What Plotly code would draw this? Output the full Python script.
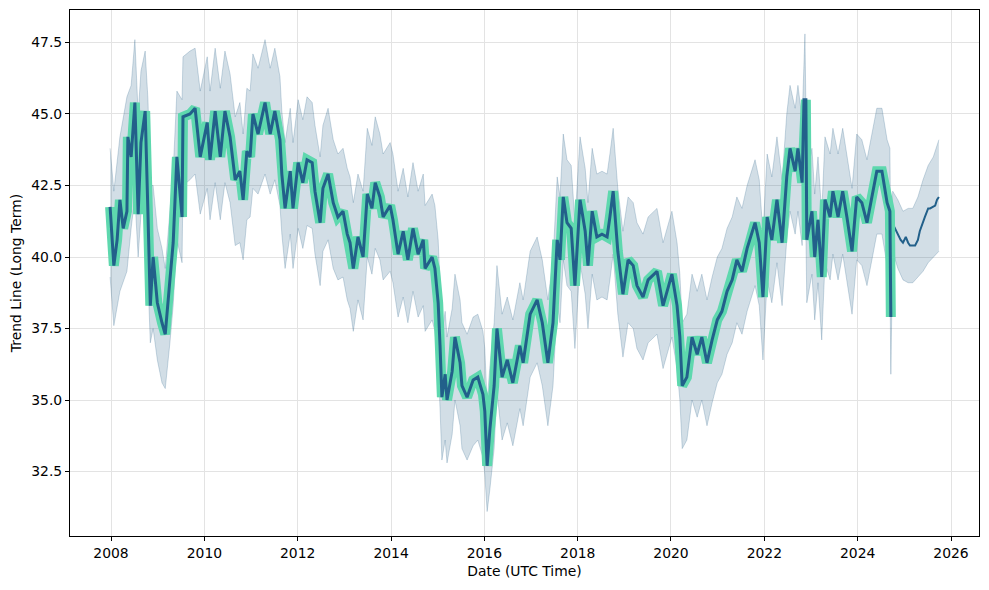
import pandas as pd
import plotly.graph_objects as go

# ---- data (decimal years) ----
trend_years = [
    2007.98, 2008.02, 2008.06, 2008.13, 2008.19, 2008.26, 2008.34, 2008.36, 2008.43, 2008.51,
    2008.58, 2008.64, 2008.73, 2008.79, 2008.84, 2008.90, 2008.99, 2009.09, 2009.16, 2009.26,
    2009.33, 2009.41, 2009.52, 2009.54, 2009.69, 2009.80, 2009.91, 2010.06, 2010.12, 2010.23,
    2010.34, 2010.44, 2010.55, 2010.66, 2010.76, 2010.83, 2010.91, 2010.98, 2011.04, 2011.15,
    2011.30, 2011.41, 2011.51, 2011.62, 2011.66, 2011.73, 2011.84, 2011.90, 2012.01, 2012.11,
    2012.20, 2012.31, 2012.37, 2012.48, 2012.54, 2012.65, 2012.76, 2012.86, 2012.97, 2013.06,
    2013.12, 2013.19, 2013.29, 2013.40, 2013.49, 2013.59, 2013.66, 2013.76, 2013.83, 2013.98,
    2014.04, 2014.15, 2014.26, 2014.36, 2014.47, 2014.58, 2014.69, 2014.73, 2014.88, 2014.94,
    2015.01, 2015.05, 2015.09, 2015.16, 2015.20, 2015.31, 2015.37, 2015.48, 2015.52, 2015.63,
    2015.76, 2015.86, 2015.97, 2016.01, 2016.06, 2016.12, 2016.21, 2016.27, 2016.38, 2016.49,
    2016.61, 2016.76, 2016.83, 2016.98, 2017.13, 2017.24, 2017.36, 2017.47, 2017.56, 2017.62,
    2017.69, 2017.77, 2017.86, 2017.94, 2018.05, 2018.16, 2018.22, 2018.31, 2018.41, 2018.52,
    2018.63, 2018.69, 2018.76, 2018.86, 2018.97, 2019.08, 2019.19, 2019.27, 2019.40, 2019.51,
    2019.70, 2019.83, 2020.02, 2020.13, 2020.19, 2020.24, 2020.34, 2020.45, 2020.56, 2020.66,
    2020.77, 2020.88, 2020.99, 2021.09, 2021.20, 2021.31, 2021.41, 2021.52, 2021.63, 2021.80,
    2021.89, 2021.97, 2022.06, 2022.16, 2022.27, 2022.38, 2022.48, 2022.55, 2022.66, 2022.72,
    2022.81, 2022.85, 2022.89, 2022.91, 2023.02, 2023.08, 2023.15, 2023.23, 2023.30, 2023.41,
    2023.47, 2023.58, 2023.68, 2023.77, 2023.88, 2023.98, 2024.09, 2024.20, 2024.31, 2024.41,
    2024.52, 2024.63, 2024.69, 2024.71,
]
trend_values = [
    41.75, 40.5, 39.7, 40.6, 42.0, 41.0, 41.6, 44.2, 43.5, 45.4,
    41.5, 44.0, 45.1, 41.5, 38.3, 40.0, 38.4, 37.7, 37.3, 39.2,
    40.5, 43.5, 41.4, 44.9, 45.0, 45.2, 43.5, 44.7, 43.4, 45.1,
    43.5, 45.1, 44.2, 42.7, 43.0, 42.0, 43.7, 43.5, 45.0, 44.3,
    45.4, 44.3, 45.1, 44.1, 42.9, 41.7, 43.0, 41.7, 43.3, 42.6,
    43.4, 43.3, 42.3, 41.2, 42.4, 42.9, 41.9, 41.4, 41.6, 40.8,
    40.5, 39.6, 40.7, 40.0, 42.2, 41.7, 42.6, 42.1, 41.4, 41.8,
    41.3, 40.1, 40.9, 39.9, 41.0, 40.1, 40.6, 39.6, 40.0, 39.6,
    38.4, 36.9, 35.1, 35.9, 35.0, 36.0, 37.2, 36.3, 35.5, 35.1,
    35.7, 35.8, 35.2, 34.6, 32.7, 34.0, 35.5, 37.5, 35.8, 36.4,
    35.6, 36.9, 36.3, 38.0, 38.5, 37.7, 36.3, 37.7, 40.6, 39.9,
    42.1, 41.2, 41.0, 39.0, 42.0, 40.9, 39.7, 41.6, 40.7, 40.8,
    40.7, 41.4, 42.3, 40.2, 38.7, 39.9, 39.7, 39.0, 38.6, 39.2,
    39.5, 38.3, 39.4, 38.3, 37.2, 35.5, 35.8, 37.2, 36.6, 37.2,
    36.3, 37.1, 37.8, 38.1, 38.8, 39.2, 39.9, 39.5, 40.3, 41.2,
    40.5, 38.6, 41.4, 40.6, 42.0, 40.5, 42.8, 43.8, 43.0, 43.8,
    42.6, 45.5, 45.5, 40.6, 41.6, 40.0, 41.3, 39.3, 42.0, 41.4,
    42.3, 41.4, 42.3, 41.4, 40.2, 42.1, 41.9, 41.2, 42.1, 43.0,
    43.0, 41.9, 41.6, 37.9,
]

forecast_years = [
    2024.71, 2024.80, 2024.86, 2024.92, 2024.97, 2025.03, 2025.08, 2025.12, 2025.18,
    2025.23, 2025.29, 2025.33, 2025.44, 2025.51, 2025.55, 2025.66, 2025.70, 2025.74,
]
forecast_values = [
    41.3, 41.0, 40.8, 40.6, 40.5, 40.7, 40.5, 40.4, 40.4,
    40.4, 40.6, 40.9, 41.4, 41.7, 41.7, 41.8, 42.0, 42.1,
]

band_years = [
    2007.98, 2008.06, 2008.19, 2008.34, 2008.43, 2008.51, 2008.58, 2008.64, 2008.73, 2008.79,
    2008.84, 2008.90, 2008.99, 2009.09, 2009.16, 2009.26, 2009.33, 2009.41, 2009.52, 2009.54,
    2009.69, 2009.80, 2009.91, 2010.06, 2010.12, 2010.23, 2010.34, 2010.44, 2010.55, 2010.66,
    2010.76, 2010.83, 2010.91, 2010.98, 2011.04, 2011.15, 2011.30, 2011.41, 2011.51, 2011.62,
    2011.66, 2011.73, 2011.84, 2011.90, 2012.01, 2012.11, 2012.20, 2012.31, 2012.37, 2012.48,
    2012.54, 2012.65, 2012.76, 2012.86, 2012.97, 2013.06, 2013.12, 2013.19, 2013.29, 2013.40,
    2013.49, 2013.59, 2013.66, 2013.76, 2013.83, 2013.98, 2014.04, 2014.15, 2014.26, 2014.36,
    2014.47, 2014.58, 2014.69, 2014.73, 2014.88, 2014.94, 2015.01, 2015.05, 2015.09, 2015.16,
    2015.20, 2015.31, 2015.37, 2015.48, 2015.52, 2015.63, 2015.76, 2015.86, 2015.97, 2016.01,
    2016.06, 2016.12, 2016.21, 2016.27, 2016.38, 2016.49, 2016.61, 2016.76, 2016.83, 2016.98,
    2017.13, 2017.24, 2017.36, 2017.47, 2017.56, 2017.62, 2017.69, 2017.77, 2017.86, 2017.94,
    2018.05, 2018.16, 2018.22, 2018.31, 2018.41, 2018.52, 2018.63, 2018.69, 2018.76, 2018.86,
    2018.97, 2019.08, 2019.19, 2019.27, 2019.40, 2019.51, 2019.70, 2019.83, 2020.02, 2020.13,
    2020.19, 2020.24, 2020.34, 2020.45, 2020.56, 2020.66, 2020.77, 2020.88, 2020.99, 2021.09,
    2021.20, 2021.31, 2021.41, 2021.52, 2021.63, 2021.80, 2021.89, 2021.97, 2022.06, 2022.16,
    2022.27, 2022.38, 2022.48, 2022.55, 2022.66, 2022.72, 2022.81, 2022.87, 2022.91, 2023.02,
    2023.08, 2023.15, 2023.23, 2023.30, 2023.41, 2023.47, 2023.58, 2023.68, 2023.77, 2023.88,
    2023.98, 2024.09, 2024.20, 2024.31, 2024.41, 2024.52, 2024.63, 2024.69, 2024.71, 2024.75,
    2024.86, 2024.97, 2025.08, 2025.18, 2025.29, 2025.40, 2025.51, 2025.62, 2025.68, 2025.74,
]
band_upper = [
    43.8, 42.3, 44.2, 45.6, 46.0, 47.6, 45.0, 46.5, 47.2, 45.5,
    42.5, 42.5, 41.0, 40.3, 39.6, 41.5, 43.0, 45.8, 45.5, 47.0,
    47.2, 47.3, 45.8, 47.0, 45.8, 47.3, 45.9, 47.2, 46.4, 44.9,
    45.4, 44.3, 45.9, 45.8, 47.1, 46.6, 47.6, 46.6, 47.3, 46.3,
    45.1, 44.0, 45.2, 44.0, 45.5, 44.8, 45.6, 45.4, 44.6, 43.5,
    44.6, 45.2, 44.1, 43.6, 43.8, 43.1, 42.8, 41.9, 42.9, 42.3,
    44.5, 43.9, 44.9, 44.3, 43.6, 44.0, 43.6, 42.3, 43.1, 42.1,
    43.3, 42.3, 42.9, 41.8, 42.2, 41.8, 40.6, 39.1, 37.3, 38.1,
    37.2, 38.2, 39.4, 38.5, 37.7, 37.3, 37.9, 38.0, 37.4, 36.8,
    34.9, 36.2, 37.7, 39.7, 38.0, 38.6, 37.8, 39.1, 38.5, 40.2,
    40.7, 39.9, 38.5, 39.9, 42.8, 42.1, 44.3, 43.4, 43.2, 41.2,
    44.2, 43.1, 41.9, 43.8, 42.9, 43.0, 42.9, 43.6, 44.5, 42.4,
    40.9, 42.1, 41.9, 41.2, 40.8, 41.4, 41.7, 40.5, 41.6, 40.5,
    39.4, 37.7, 38.0, 39.4, 38.8, 39.4, 38.5, 39.3, 40.0, 40.3,
    41.0, 41.4, 42.1, 41.7, 42.5, 43.4, 42.7, 40.8, 43.6, 42.8,
    44.2, 42.7, 45.0, 46.0, 45.2, 46.0, 44.8, 47.8, 42.8, 43.8,
    42.2, 43.5, 41.5, 44.2, 43.6, 44.5, 43.6, 44.5, 43.6, 42.4,
    44.3, 44.1, 43.4, 44.3, 45.2, 45.2, 44.1, 43.8, 40.1, 42.3,
    42.0, 41.6, 41.7, 41.7, 42.1, 42.7, 43.2, 43.5, 43.8, 44.1,
]
band_lower = [
    39.3, 37.6, 38.8, 39.5, 41.0, 42.1, 40.0, 41.5, 42.0, 39.5,
    37.0, 37.5, 36.4, 35.6, 35.4, 37.0, 38.3, 40.6, 39.8, 42.5,
    42.7, 42.9, 41.5, 42.4, 41.3, 42.6, 41.3, 42.6, 41.9, 40.4,
    40.5, 39.9, 41.3, 41.4, 42.4, 42.2, 42.9, 42.2, 42.7, 41.8,
    40.8, 39.6, 40.8, 39.6, 41.0, 40.3, 41.1, 41.0, 40.1, 39.0,
    40.2, 40.6, 39.6, 39.2, 39.3, 38.5, 38.2, 37.4, 38.5, 37.8,
    40.0, 39.4, 40.3, 39.9, 39.2, 39.5, 39.1, 37.9, 38.6, 37.7,
    38.8, 37.9, 38.3, 37.4, 37.8, 37.4, 36.2, 34.7, 32.9, 33.6,
    32.8, 33.8, 35.0, 34.1, 33.3, 32.9, 33.4, 33.6, 33.0, 32.4,
    31.1, 31.9, 33.3, 35.3, 33.6, 34.2, 33.4, 34.7, 34.1, 35.8,
    36.3, 35.5, 34.1, 35.5, 38.4, 37.7, 39.9, 39.0, 38.8, 36.8,
    39.8, 38.7, 37.5, 39.4, 38.5, 38.6, 38.5, 39.2, 40.1, 38.0,
    36.5, 37.7, 37.5, 36.8, 36.4, 37.0, 37.3, 36.1, 37.2, 36.1,
    35.0, 33.3, 33.6, 35.0, 34.4, 35.0, 34.1, 34.9, 35.6, 35.9,
    36.6, 37.0, 37.7, 37.3, 38.1, 39.0, 38.3, 36.4, 39.2, 38.4,
    39.8, 38.3, 40.6, 41.6, 40.8, 41.6, 40.4, 43.3, 38.4, 39.4,
    37.8, 39.1, 37.1, 39.8, 39.2, 40.1, 39.2, 40.1, 39.2, 38.0,
    39.9, 39.7, 39.0, 39.9, 40.8, 40.8, 39.7, 39.4, 35.9, 40.2,
    39.6, 39.2, 39.1, 39.1, 39.3, 39.5, 39.8, 40.0, 40.1, 40.2,
]

y_ticks = [32.5, 35.0, 37.5, 40.0, 42.5, 45.0, 47.5]
x_tick_years = [2008, 2010, 2012, 2014, 2016, 2018, 2020, 2022, 2024, 2026]


def to_date(dec_year):
    y = int(dec_year)
    start = pd.Timestamp(year=y, month=1, day=1)
    end = pd.Timestamp(year=y + 1, month=1, day=1)
    return start + (end - start) * (dec_year - y)


trend_dates = [to_date(v) for v in trend_years]
forecast_dates = [to_date(v) for v in forecast_years]
band_dates = [to_date(v) for v in band_years]

band_color = "rgba(30,90,130,0.2)"
edge_color = "rgba(30,90,130,0.22)"
dark = "#22608a"
glow = "#5ed8ae"

fig = go.Figure()
fig.add_trace(go.Scatter(x=band_dates, y=band_lower, mode="lines",
                         line=dict(color=edge_color, width=1), hoverinfo="skip",
                         showlegend=False))
fig.add_trace(go.Scatter(x=band_dates, y=band_upper, mode="lines",
                         line=dict(color=edge_color, width=1), fill="tonexty",
                         fillcolor=band_color, hoverinfo="skip", showlegend=False))
fig.add_trace(go.Scatter(x=forecast_dates, y=forecast_values, mode="lines",
                         line=dict(color=dark, width=2), showlegend=False))
fig.add_trace(go.Scatter(x=trend_dates, y=trend_values, mode="lines",
                         line=dict(color=glow, width=10), showlegend=False))
fig.add_trace(go.Scatter(x=trend_dates, y=trend_values, mode="lines",
                         line=dict(color=dark, width=3), showlegend=False))

font = dict(family="DejaVu Sans", size=13.9, color="black")
# page body has an 8px margin, so the figure is sized/offset to land the
# plot frame at x 70..979, y 10..536 of the 989x590 window
fig.update_layout(
    width=973, height=574,
    margin=dict(l=62, r=2, t=2, b=46),
    paper_bgcolor="white", plot_bgcolor="white",
    font=font,
    xaxis=dict(
        type="date",
        range=[to_date(2007.12), to_date(2026.60)],
        tickvals=[pd.Timestamp(year=y, month=1, day=1) for y in x_tick_years],
        ticktext=[str(y) for y in x_tick_years],
        showgrid=True, gridcolor="#e3e3e3", gridwidth=1,
        showline=True, linecolor="black", linewidth=1, mirror=True,
        ticks="outside", ticklen=4, tickcolor="black",
        zeroline=False,
        title=dict(text="Date (UTC Time)", standoff=6, font=dict(size=13.9)),
    ),
    yaxis=dict(
        range=[30.245, 48.636],
        tickvals=y_ticks,
        ticktext=[f"{v:.1f}" for v in y_ticks],
        showgrid=True, gridcolor="#e3e3e3", gridwidth=1,
        showline=True, linecolor="black", linewidth=1, mirror=True,
        ticks="outside", ticklen=4, tickcolor="black",
        zeroline=False,
        title=dict(text="Trend Line (Long Term)", standoff=10, font=dict(size=13.9)),
    ),
)

fig.write_html("out.html")
